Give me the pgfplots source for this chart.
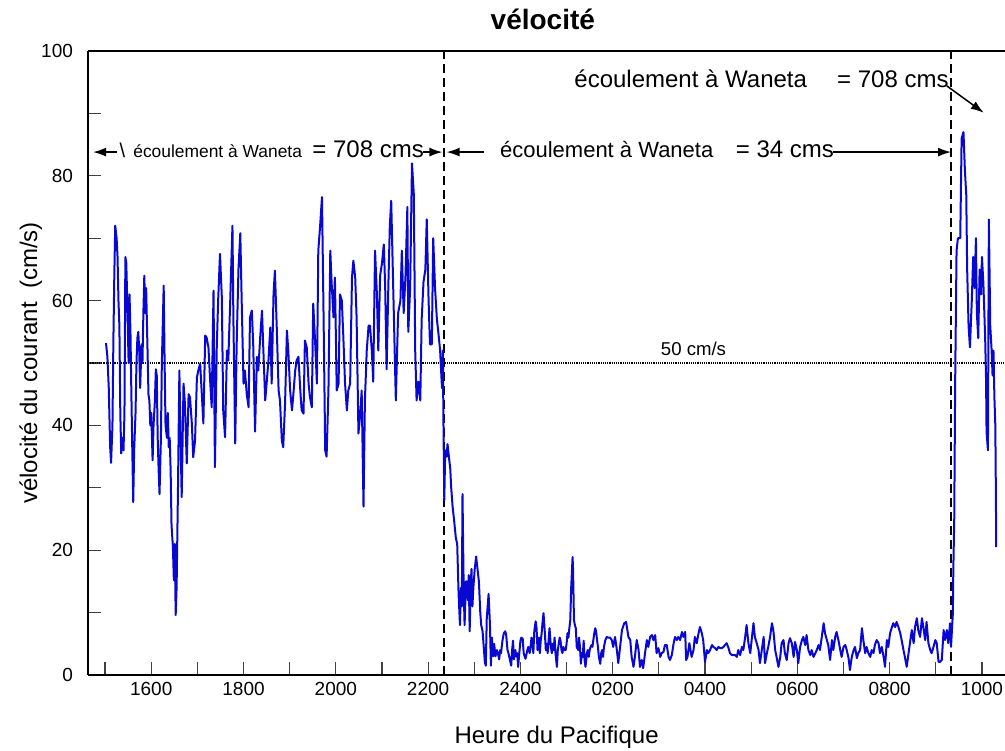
\documentclass[border=0pt]{standalone}
\usepackage{fontspec}
\setmainfont{Liberation Sans}
\usepackage{pgfplots}
\pgfplotsset{compat=1.18}
\usetikzlibrary{arrows.meta}
\definecolor{trace}{RGB}{8,8,210}

\begin{document}
\begin{tikzpicture}
\begin{axis}[
  scale only axis, width=458.5pt, height=312pt,
  xmin=-0.37, xmax=19.5, ymin=0, ymax=100,
  axis x line*=bottom, axis y line*=left,
  axis line style={-, line width=1pt},
  xtick={1,3,...,19},
  xticklabels={1600,1800,2000,2200,2400,0200,0400,0600,0800,1000},
  minor xtick={0,2,...,18},
  ytick={0,20,...,100},
  minor ytick={10,30,...,90},
  tick align=inside,
  major tick length=6.5pt, minor tick length=6.5pt,
  every tick/.style={black!75, line width=0.6pt},
  tick label style={font=\fontsize{9.5}{11}\selectfont},
  /pgf/number format/assume math mode=true,
  yticklabel style={xshift=-4pt},
  every axis title/.style={at={(axis description cs:0.496,1)}, anchor=base, yshift=10.6pt, font=\fontsize{14}{16}\selectfont\bfseries},
  title={vélocité},
  every axis x label/.style={at={(axis description cs:0.511,0)}, anchor=base, yshift=-34.2pt, font=\fontsize{12}{14}\selectfont},
  xlabel={Heure du Pacifique},
  every axis y label/.style={at={(axis description cs:-0.0556,0.5)}, rotate=90, anchor=base, font=\fontsize{12}{14}\selectfont},
  ylabel={vélocité du courant\ \ (cm/s)},
  clip=false,
]
\draw[line width=1pt] (rel axis cs:0,1) -- (rel axis cs:1,1);

% reference lines
\addplot[black, line width=0.8pt, dash pattern=on 0.6pt off 0.5pt] coordinates {(-0.37,50) (19.5,50)};
\addplot[black, line width=1pt, dash pattern=on 4.5pt off 2.5pt] coordinates {(7.35,0) (7.35,100)};
\addplot[black, line width=1pt, dash pattern=on 4.5pt off 2.5pt] coordinates {(18.32,0) (18.32,100)};

% velocity trace (x = hours after 15:00)
\addplot[trace, line width=1pt, line join=round] coordinates {
(0.02,53.2)(0.05,51)(0.08,46)(0.11,36.5)(0.13,34)(0.16,40)(0.18,53.6)(0.20,64)(0.22,72)(0.25,70)
(0.27,67)(0.29,60)(0.31,56)(0.33,42)(0.35,35.5)(0.38,38)(0.40,36)(0.42,42)(0.44,67)(0.46,66)
(0.48,60)(0.51,50)(0.53,61)(0.55,55)(0.57,45)(0.59,36)(0.61,27.7)(0.63,36)(0.66,42)(0.68,50)
(0.70,54)(0.72,55)(0.74,52)(0.76,46)(0.79,53)(0.81,50)(0.83,58)(0.85,64)(0.87,58)(0.89,62)
(0.92,52)(0.94,45)(0.96,44)(0.98,40)(1.00,42)(1.03,34.4)(1.05,40)(1.08,44)(1.10,49)(1.12,48)
(1.14,38)(1.16,33)(1.18,29)(1.21,38)(1.23,50)(1.25,56)(1.27,62.4)(1.29,50)(1.31,40)(1.34,38)
(1.36,42)(1.38,36.5)(1.40,38)(1.42,33)(1.44,24)(1.47,20.5)(1.49,15.2)(1.51,21)(1.53,9.6)(1.55,14)
(1.58,30)(1.61,48.8)(1.63,40.3)(1.66,28.5)(1.70,46.7)(1.73,43.5)(1.77,33.9)(1.81,45)(1.84,44.5)(1.88,40.3)
(1.91,34.9)(1.95,37.6)(1.99,47.7)(2.02,48.8)(2.06,49.9)(2.10,44.5)(2.13,40.3)(2.17,54.4)(2.20,54.1)(2.24,52.5)
(2.28,46.7)(2.31,42.9)(2.35,61.6)(2.38,33.3)(2.42,52.5)(2.45,60)(2.49,67.5)(2.53,60.5)(2.56,42.4)(2.60,38.1)
(2.64,52)(2.67,50.4)(2.71,59.5)(2.76,72)(2.78,57.3)(2.82,37.1)(2.85,52.5)(2.89,65)(2.93,70.8)(2.96,60)
(3.00,46.7)(3.03,48.8)(3.07,45)(3.11,42.9)(3.14,57.3)(3.18,58.4)(3.21,53)(3.25,39)(3.29,51)(3.32,48.8)
(3.36,54)(3.40,58.4)(3.43,52)(3.47,44)(3.50,46.7)(3.54,50.4)(3.58,55.7)(3.61,46.7)(3.65,61)(3.68,64.8)
(3.72,55.7)(3.76,45.6)(3.79,44)(3.83,37.6)(3.86,36.5)(3.90,43.5)(3.94,55.2)(3.97,52)(4.01,45.6)(4.05,42.4)
(4.08,45)(4.12,48.8)(4.15,50.4)(4.19,51)(4.23,45.6)(4.26,42.4)(4.30,41.9)(4.33,53.6)(4.37,52.5)(4.41,46.7)
(4.44,44.5)(4.48,42.9)(4.51,59.5)(4.55,53.6)(4.59,46.7)(4.62,68)(4.66,72)(4.70,76.6)(4.73,60)(4.77,36)
(4.80,35)(4.84,45.6)(4.88,68)(4.91,62.7)(4.95,57.3)(4.98,63.7)(5.02,45.6)(5.06,46.7)(5.09,61)(5.13,60)
(5.16,54.7)(5.20,46.7)(5.24,42.4)(5.27,45.6)(5.31,46.7)(5.35,63.7)(5.38,66.4)(5.42,63.7)(5.45,57.3)(5.49,38.7)
(5.53,41.9)(5.56,45.6)(5.60,27)(5.63,44)(5.67,52)(5.71,56)(5.74,56)(5.78,52)(5.81,47)(5.85,68)
(5.89,61)(5.92,52)(5.96,64)(6.00,66)(6.04,69)(6.07,62)(6.10,49)(6.14,63)(6.17,72)(6.20,76)
(6.25,60)(6.30,44)(6.35,58)(6.40,60)(6.43,68)(6.47,58)(6.51,64)(6.55,75)(6.57,55)(6.61,62)
(6.65,82)(6.69,77)(6.72,52)(6.75,44)(6.79,47)(6.83,44)(6.86,57)(6.90,63)(6.94,65)(6.97,73)
(7.01,60)(7.04,53)(7.08,53)(7.11,70)(7.15,62)(7.19,57)(7.22,55)(7.26,52)(7.30,46)(7.32,52)
(7.33,42)(7.35,28)(7.37,36)
(7.40,35)(7.42,37)(7.45,35)(7.48,33)(7.50,30)(7.53,27)(7.56,25)(7.60,22)(7.63,21)(7.66,13)
(7.69,8)(7.71,14)(7.73,11)(7.745,29)(7.77,14)(7.79,8)(7.82,15)(7.84,15)(7.86,12)(7.88,16)
(7.90,7)(7.92,14)(7.94,17)(7.96,11)(7.98,14)(8.01,17)(8.04,19)(8.07,17)(8.10,15)(8.13,10)
(8.15,8)(8.18,7)(8.20,5)(8.23,2)(8.25,1.5)(8.27,9)(8.29,11)(8.31,13)(8.34,8)(8.36,1.5)
(8.38,6)(8.41,3)(8.43,5)(8.46,3)(8.49,4)(8.51,3.5)(8.54,2.5)(8.56,4)(8.58,3.5)(8.61,5.5)
(8.64,6.7)(8.67,7)(8.69,6.5)(8.72,4)(8.74,3.5)(8.77,2.5)(8.80,1.5)(8.82,4)(8.84,5.5)(8.86,2.5)
(8.89,4)(8.91,3)(8.93,3.5)(8.95,1.3)(8.97,3)(9.00,5.5)(9.02,6)(9.05,5.8)(9.07,3.5)(9.09,3)
(9.11,2.6)(9.13,3.3)(9.15,4)(9.17,4.5)(9.20,3.5)(9.22,4.5)(9.24,6)(9.26,5)(9.28,3.5)(9.30,7)
(9.33,8.6)(9.35,7.5)(9.37,4)(9.40,6)(9.42,3.5)(9.44,5.5)(9.46,6.7)(9.48,8.5)(9.50,9.9)(9.53,6.7)
(9.55,4)(9.57,5)(9.59,3.5)(9.61,5.5)(9.63,7.5)(9.66,4.5)(9.68,3.5)(9.70,5)(9.72,4)(9.74,6)
(9.76,3.5)(9.79,1.3)(9.81,4)(9.83,5)(9.85,6)(9.87,5.5)(9.89,4)(9.91,3.5)(9.93,4.5)(9.95,4)
(9.98,4)(10.00,5)(10.02,6.7)(10.04,6)(10.06,7.5)(10.08,8.8)(10.10,14)(10.13,18.9)(10.14,17)(10.16,8.8)
(10.18,8)(10.20,7.5)(10.22,4.5)(10.25,4)(10.27,6)(10.29,4.5)(10.31,1.8)(10.33,3.5)(10.35,2.9)(10.37,5.5)
(10.39,2.4)(10.41,1.3)(10.44,3.5)(10.46,4)(10.48,2.9)(10.50,4)(10.52,4.5)(10.54,4.8)(10.56,4.5)(10.58,5.6)
(10.60,6.7)(10.62,7.5)(10.64,7)(10.66,5.6)(10.68,4.5)(10.70,2.9)(10.73,1.8)(10.75,3.5)(10.77,4)(10.79,2.9)
(10.81,4.5)(10.84,5.6)(10.87,6.1)(10.90,6)(10.94,6)
(10.98,5.6)(11.01,4.5)(11.05,6.1)(11.09,4.0)(11.12,1.9)(11.16,4.5)(11.20,7.2)(11.25,8.3)(11.29,8.5)(11.34,6.1)
(11.38,5.6)(11.41,2.9)(11.45,1.3)(11.48,2.9)(11.52,5.6)(11.56,4.0)(11.59,1.3)(11.63,2.4)(11.66,1.1)(11.70,3.5)
(11.74,5.6)(11.77,4.5)(11.81,6.1)(11.85,6.4)(11.88,5.6)(11.92,6.4)(11.95,3.5)(11.99,4.3)(12.03,2.9)(12.06,3.5)
(12.10,3.7)(12.13,4.8)(12.17,4.8)(12.21,2.9)(12.24,2.4)(12.28,3.2)(12.32,5.1)(12.35,6.1)(12.39,5.6)(12.42,6.1)
(12.46,5.6)(12.50,6.9)(12.53,6.1)(12.57,6.9)(12.59,2.4)(12.62,2.9)(12.66,5.1)(12.71,2.9)(12.75,4.0)(12.78,6.1)
(12.82,5.1)(12.86,6.7)(12.89,7.7)(12.93,6.7)(12.96,5.6)(13.00,2.1)(13.04,4.0)(13.07,3.5)(13.11,4.0)(13.15,4.8)
(13.18,4.5)(13.22,4.3)(13.25,4.0)(13.29,4.5)(13.33,4.3)(13.36,4.3)(13.40,4.5)(13.43,4.8)(13.47,5.1)(13.51,4.3)
(13.54,3.5)(13.58,3.2)(13.62,3.2)(13.65,3.2)(13.69,2.9)(13.72,4.0)(13.76,3.2)(13.80,4.5)(13.83,4.0)(13.87,6.1)
(13.90,8.0)(13.94,5.1)(13.98,3.5)(14.01,5.6)(14.05,8.3)(14.08,6.1)(14.12,5.1)(14.16,4.0)(14.19,1.9)(14.23,4.0)
(14.27,6.1)(14.30,1.9)(14.34,3.5)(14.37,4.5)(14.41,6.1)(14.45,8.3)(14.48,7.2)(14.52,4.0)(14.55,2.9)(14.59,1.3)
(14.63,2.9)
(14.66,5.1)(14.70,5.6)(14.73,3.5)(14.77,2.4)(14.81,5.1)(14.84,5.9)(14.88,5.1)(14.92,2.9)(14.95,5.3)(14.99,4.0)
(15.02,1.9)(15.06,4.5)(15.10,5.6)(15.13,6.1)(15.17,4.8)(15.20,6.4)(15.24,4.0)(15.28,3.2)(15.31,4.0)(15.35,2.9)
(15.39,3.5)(15.42,4.0)(15.46,4.8)(15.49,4.0)(15.53,6.1)(15.57,8.3)(15.60,6.7)(15.64,5.6)(15.67,4.8)(15.71,2.4)
(15.75,5.6)(15.78,4.0)(15.82,6.1)(15.85,6.9)(15.89,5.6)(15.93,4.0)(15.96,2.9)(16.00,4.5)(16.04,4.8)(16.07,4.0)
(16.11,2.7)(16.14,0.8)(16.18,2.9)(16.22,4.0)(16.25,4.5)(16.29,2.7)(16.32,3.5)(16.36,4.0)(16.40,7.5)(16.43,5.6)
(16.47,3.5)(16.50,4.5)(16.54,3.5)(16.58,2.9)(16.61,4.0)(16.65,3.5)(16.68,4.8)(16.72,5.6)(16.76,5.1)(16.79,3.5)
(16.83,4.5)(16.87,2.9)(16.90,1.3)(16.94,5.6)(16.97,4.5)(17.01,6.7)(17.05,7.7)(17.08,8.3)(17.12,7.7)(17.15,8.5)
(17.19,7.7)(17.23,6.7)(17.26,5.6)(17.30,4.0)(17.33,2.9)(17.37,1.3)(17.41,3.5)(17.44,5.1)(17.48,7.2)(17.52,5.1)
(17.55,7.7)(17.59,9.1)(17.62,7.2)(17.66,6.1)(17.70,9.1)(17.73,7.7)(17.77,5.6)(17.80,8.5)(17.84,5.1)(17.88,4.0)
(17.91,3.5)(17.95,4.5)(17.99,5.6)(18.02,5.1)(18.06,2.1)(18.09,2.1)(18.13,2.4)(18.17,7.2)(18.20,5.6)(18.24,7.2)
(18.27,5.1)(18.31,8.3)(18.33,4.5)(18.37,9.9)(18.38,16.8)(18.40,25)
(18.42,47)(18.45,68)(18.48,70)(18.53,70)(18.56,86)(18.60,87)(18.63,81)(18.66,77)(18.68,65)(18.71,56)
(18.74,52.5)(18.78,60)(18.81,67)(18.84,62)(18.87,70)(18.89,58)(18.92,54)(18.95,65)(18.98,61)(19.00,67)
(19.03,63)(19.07,54)(19.09,47)(19.10,39)(19.13,36)(19.15,73)(19.18,56)(19.21,52)(19.23,48)(19.25,52)
(19.27,44.5)(19.29,40)(19.30,31)(19.31,20.5)
};

% annotations
\node[font=\fontsize{12}{14}\selectfont, anchor=base, inner sep=0pt] at (axis cs:12.69,94.1) {écoulement à Waneta};
\node[font=\fontsize{12}{14}\selectfont, anchor=base, inner sep=0pt] at (axis cs:17.07,94.1) {= 708 cms};
\draw[-{Latex[length=6.5pt,width=4.5pt]}, line width=0.75pt] (axis cs:18.24,94.4) -- (axis cs:19.04,90.1);

\node[font=\fontsize{11}{13}\selectfont, anchor=base, inner sep=0pt] at (axis cs:10.87,83) {écoulement à Waneta};
\node[font=\fontsize{12}{14}\selectfont, anchor=base, inner sep=0pt] at (axis cs:14.73,83) {= 34 cms};
\draw[-{Latex[length=6.5pt,width=4.5pt]}, line width=0.75pt] (axis cs:15.78,83.8) -- (axis cs:18.33,83.8);
\draw[-{Latex[length=6.5pt,width=4.5pt]}, line width=0.75pt] (axis cs:8.20,83.8) -- (axis cs:7.40,83.8);

\draw[-{Latex[length=6.5pt,width=4.5pt]}, line width=0.75pt] (axis cs:0.25,83.8) -- (axis cs:-0.26,83.8);
\node[font=\fontsize{10}{12}\selectfont, anchor=base, inner sep=0pt] at (axis cs:0.375,83) {\textbackslash};
\node[font=\fontsize{8.7}{10}\selectfont, anchor=base, inner sep=0pt] at (axis cs:2.44,83) {écoulement à Waneta};
\node[font=\fontsize{12}{14}\selectfont, anchor=base, inner sep=0pt] at (axis cs:5.70,83) {= 708 cms};
\draw[-{Latex[length=6.5pt,width=4.5pt]}, line width=0.75pt] (axis cs:6.89,83.8) -- (axis cs:7.31,83.8);

\node[font=\fontsize{9.3}{11}\selectfont, anchor=base, inner sep=0pt] at (axis cs:12.75,51.2) {50 cm/s};
\end{axis}
\pgfresetboundingbox
\path[use as bounding box] ([xshift=-44pt,yshift=-37.5pt]current axis.south west) rectangle ([yshift=25.5pt]current axis.north east);
\end{tikzpicture}
\end{document}
